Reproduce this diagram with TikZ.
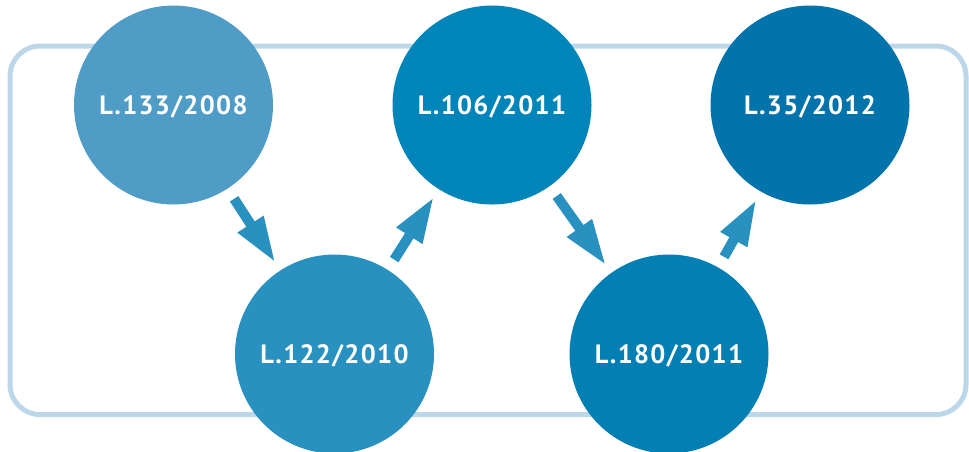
\documentclass[tikz,border=0pt]{standalone}
\usepackage{fontspec}
\newfontfamily\lawfont[LetterSpace=5]{PT Sans}
\usetikzlibrary{arrows.meta}
\definecolor{lawA}{HTML}{4F9DC7}
\definecolor{lawB}{HTML}{2891C0}
\definecolor{lawC}{HTML}{0085BA}
\definecolor{lawD}{HTML}{037FB3}
\definecolor{lawE}{HTML}{0273AB}
\definecolor{linkblue}{HTML}{2891C0}
\definecolor{framecol}{HTML}{BDD7EA}
\begin{document}
\begin{tikzpicture}[x=1pt,y=-1pt,
  law/.style={circle,minimum size=199pt,inner sep=0pt,text=white,text depth=0pt,
    font=\lawfont\bfseries\fontsize{26.5}{30}\selectfont},
  link/.style={linkblue,line width=10pt,shorten <=12pt,shorten >=9pt,
    -{Triangle[length=46pt,width=28pt]}}]
  \useasboundingbox (0,0) rectangle (969,451);
  \draw[framecol,line width=5pt,rounded corners=30pt] (10,46) rectangle (966,414.5);
  \node[law,fill=lawA] (l133) at (173.5,105) {L.133/2008};
  \node[law,fill=lawB] (l122) at (334.5,354) {L.122/2010};
  \node[law,fill=lawC] (l106) at (492,105) {L.106/2011};
  \node[law,fill=lawD] (l180) at (669,354) {L.180/2011};
  \node[law,fill=lawE] (l35) at (810,105) {L.35/2012};
  \draw[link] (l133) -- (l122);
  \draw[link] (l122) -- (l106);
  \draw[link] (l106) -- (l180);
  \draw[link] (l180) -- (l35);
\end{tikzpicture}
\end{document}
